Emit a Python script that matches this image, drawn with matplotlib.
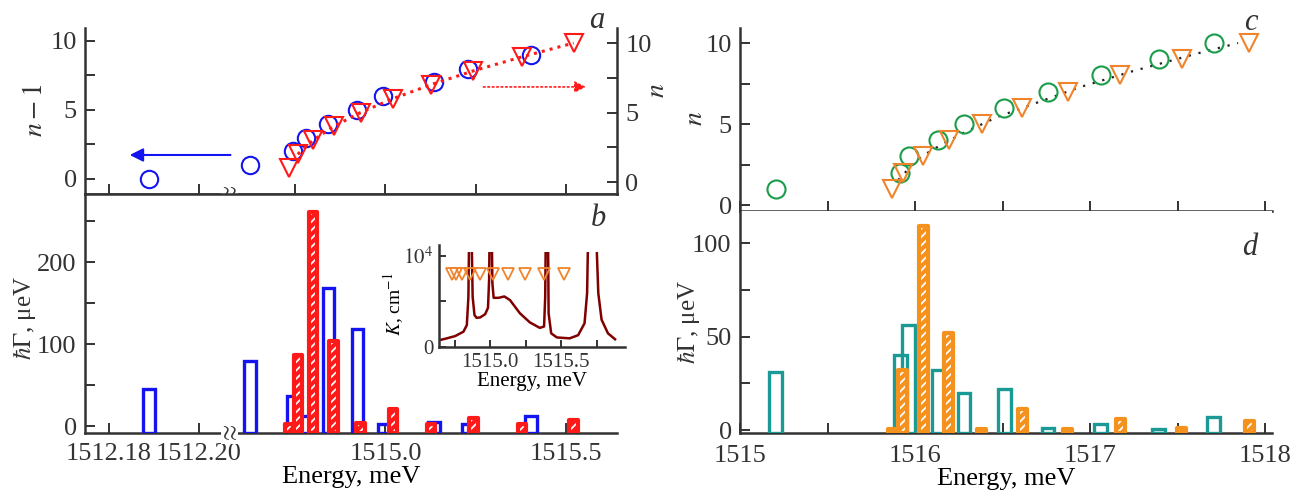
import numpy as np
import matplotlib.pyplot as plt
from matplotlib.patches import Rectangle
from matplotlib.ticker import FixedLocator, FixedFormatter, NullFormatter

plt.rcParams.update({
    'font.family': 'Liberation Serif',
    'mathtext.fontset': 'stix',
    'font.size': 19,
    'axes.linewidth': 1.8,
    'axes.edgecolor': '#333333',
    'text.color': '#333333',
    'xtick.color': '#333333',
    'ytick.color': '#333333',
    'xtick.direction': 'in',
    'ytick.direction': 'in',
    'xtick.major.size': 7, 'ytick.major.size': 7,
    'xtick.minor.size': 7, 'ytick.minor.size': 7,
    'xtick.major.width': 1.4, 'ytick.major.width': 1.4,
    'xtick.minor.width': 1.4, 'ytick.minor.width': 1.4,
    'hatch.linewidth': 1.3,
})

BLUE = '#1414f0'
RED = '#ff1a1a'
GREEN = '#1a9c4a'
ORANGE = '#f5921e'
ORANGE_M = '#f0842c'
TEAL = '#1a9a94'
MAROON = '#800000'

# ---- panel a / b : blue circles = n-1, red triangles = n ----
circ_a_E = [1512.1889, 1514.624, 1514.743, 1514.781, 1514.842, 1514.922,
            1514.994, 1515.135, 1515.228, 1515.404]
circ_a_n1 = [0, 1, 2, 3, 4, 5, 6, 7, 8, 9]
tri_a_E = [1514.732, 1514.757, 1514.799, 1514.856, 1514.931, 1515.021,
           1515.126, 1515.244, 1515.378, 1515.522]
tri_a_n = [1, 2, 3, 4, 5, 6, 7, 8, 9, 10]
blue_h = [45, 79, 37, 12, 168, 118, 3, 5, 3, 12]
red_h = [3, 87, 261, 104, 4, 21, 2, 10, 2, 7]

# inset: absorption spectrum
ins_E = [1514.648, 1514.695, 1514.754, 1514.812, 1514.836, 1514.847, 1514.852,
         1514.870, 1514.877, 1514.890, 1514.905, 1514.930, 1514.965, 1514.985,
         1514.993, 1514.996, 1515.012, 1515.016, 1515.025, 1515.060, 1515.100,
         1515.140, 1515.210, 1515.280, 1515.350, 1515.380, 1515.388, 1515.392,
         1515.408, 1515.412, 1515.430, 1515.470, 1515.560, 1515.620, 1515.665,
         1515.683, 1515.690, 1515.748, 1515.762, 1515.785, 1515.830, 1515.880]
ins_K = [770, 950, 1200, 1680, 2400, 5500, 12000,
         12000, 5500, 3500, 3200, 3250, 3600, 4300,
         7400, 12000, 12000, 7000, 5400, 5400, 5550,
         5150, 3700, 2700, 2100, 2250, 5500, 12000,
         12000, 3700, 1500, 1050, 950, 1300, 2600,
         5900, 12000, 12000, 5900, 3000, 1500, 850]
ins_tri_K = 8000

# ---- panel c / d ----
circ_c_E = [1515.203, 1515.917, 1515.963, 1516.134, 1516.280, 1516.511,
            1516.760, 1517.060, 1517.394, 1517.706]
circ_c_n = [1, 2, 3, 4, 5, 6, 7, 8, 9, 10]
tri_c_E = [1515.871, 1515.931, 1516.046, 1516.194, 1516.380, 1516.614,
           1516.874, 1517.174, 1517.523, 1517.909]
tri_c_n = [1, 2, 3, 4, 5, 6, 7, 8, 9, 10]
fit_c_E = [1515.903, 1516.011, 1516.097, 1516.274, 1516.469, 1516.943,
           1517.246, 1517.600, 1517.846]
fit_c_n = [1.54, 2.78, 3.40, 4.44, 5.43, 7.28, 8.27, 9.32, 10.0]
teal_h = [31, 40, 56, 32, 20, 22, 1, 3, 0.6, 7]
orange_h = [0.5, 32, 109, 52, 0.7, 11, 0.7, 6, 1, 5]

# broken energy axis for a/b (units ~ pixels)
brk_E = [1512.0, 1512.2067, 1514.567, 1516.5]
brk_u = [-810.0, 120.15, 120.16, 120.16 + (1516.5 - 1514.567) * 360]


def fwd(E):
    return np.interp(E, brk_E, brk_u)


def inv(u):
    return np.interp(u, brk_u, brk_E)


def wid(E, px):
    return [px / (4500.0 if e < 1513 else 360.0) for e in E]


W, H = 1302, 497
fig = plt.figure(figsize=(W / 100, H / 100), dpi=100)


def rect(x0, y0, x1, y1):
    return [x0 / W, 1 - y1 / H, (x1 - x0) / W, (y1 - y0) / H]


ax_a = fig.add_axes(rect(85, 28, 617, 194))
ax_b = fig.add_axes(rect(85, 194, 617, 433))
ax_c = fig.add_axes(rect(740, 28, 1272, 211))
ax_d = fig.add_axes(rect(740, 211, 1272, 433))
ax_in = fig.add_axes(rect(439, 245, 625, 347))
ax_a2 = ax_a.twinx()

xlo, xhi = 1512.1747, 1515.642
for ax in (ax_a, ax_b, ax_a2):
    ax.set_xscale('function', functions=(fwd, inv))
    ax.set_xlim(xlo, xhi)
    ax.xaxis.set_major_locator(FixedLocator([1512.18, 1512.20, 1515.0, 1515.5]))
    ax.xaxis.set_major_formatter(FixedFormatter(['1512.18', '1512.20', '1515.0', '1515.5']))
    ax.xaxis.set_minor_locator(FixedLocator([1514.75, 1515.25]))
    ax.xaxis.set_minor_formatter(NullFormatter())

# panel a
ax_a.set_ylim(-1.087, 10.94)
ax_a2.set_ylim(-0.86, 11.08)
for ax in (ax_a, ax_a2):
    ax.yaxis.set_major_locator(FixedLocator([0, 5, 10]))
    ax.yaxis.set_minor_locator(FixedLocator([2.5, 7.5]))
    ax.spines['top'].set_visible(False)
ax_a.spines['right'].set_visible(False)
ax_a2.spines['left'].set_visible(False)
ax_a.tick_params(axis='x', which='both', labelbottom=False)
ax_a.tick_params(axis='y', which='both', pad=6)
ax_a2.tick_params(axis='y', which='both', pad=6)

ax_a.plot(circ_a_E, circ_a_n1, 'o', ms=12.5, mfc='none', mec=BLUE, mew=1.5)
ax_a2.plot(tri_a_E[1:], tri_a_n[1:], ':', color=RED, lw=2.2)
ax_a2.plot(tri_a_E, tri_a_n, 'v', ms=13.5, mfc='none', mec=RED, mew=1.5)
ax_a.annotate('', xy=(1512.184, 1.74), xytext=(1514.578, 1.74),
              arrowprops=dict(arrowstyle='-|>', color=BLUE, lw=1.5, mutation_scale=20))
ax_a.annotate('', xy=(1515.564, 6.67), xytext=(1515.264, 6.67),
              arrowprops=dict(arrowstyle='-|>', color=RED, lw=1.2, ls=':', mutation_scale=17))

# panel b
b_lo = -8.5
ax_b.set_ylim(b_lo, 283)
ax_b.yaxis.set_major_locator(FixedLocator([0, 100, 200]))
ax_b.yaxis.set_minor_locator(FixedLocator([50, 150, 250]))
ax_b.spines['top'].set_visible(False)
ax_b.spines['right'].set_visible(False)
ax_b.tick_params(axis='y', which='both', pad=6)
ax_b.tick_params(axis='x', which='both', pad=7)
ax_b.bar(circ_a_E, [h - b_lo for h in blue_h], bottom=b_lo, width=wid(circ_a_E, 11.5),
         facecolor='none', edgecolor=BLUE, linewidth=2.4, zorder=3)
ax_b.bar(tri_a_E, [h - b_lo for h in red_h], bottom=b_lo, width=wid(tri_a_E, 8.5),
         color=RED, edgecolor='white', hatch='////', linewidth=0, zorder=4)
ax_b.bar(tri_a_E, [h - b_lo for h in red_h], bottom=b_lo, width=wid(tri_a_E, 8.5),
         facecolor='none', edgecolor=RED, linewidth=3, joinstyle='round', zorder=5)
ax_b.set_xlabel('Energy, meV', labelpad=1)

# break marks
for ax in (ax_a, ax_b):
    ax.text(1513.5, 0, r'$\wr\!\wr$', transform=ax.get_xaxis_transform(),
            ha='center', va='center', fontsize=17, color='#333333',
            bbox=dict(facecolor='white', edgecolor='none', pad=0.5), zorder=10,
            clip_on=False)

# inset
ax_in.set_xlim(1514.64, 1515.95)
ax_in.set_ylim(0, 11200)
spec, = ax_in.plot(ins_E, ins_K, '-', color=MAROON, lw=1.8)
spec.set_clip_path(Rectangle((0, 0), 1, 10400 / 11200, transform=ax_in.transAxes))
ax_in.plot(tri_a_E, [ins_tri_K] * len(tri_a_E), 'v', ms=9, mfc='none', mec=ORANGE_M, mew=1.3)
ax_in.spines['top'].set_visible(False)
ax_in.spines['right'].set_visible(False)
ax_in.xaxis.set_major_locator(FixedLocator([1515.0, 1515.5]))
ax_in.xaxis.set_major_formatter(FixedFormatter(['1515.0', '1515.5']))
ax_in.xaxis.set_minor_locator(FixedLocator([1514.75, 1515.25, 1515.75]))
ax_in.yaxis.set_major_locator(FixedLocator([0, 5000, 10000]))
ax_in.yaxis.set_major_formatter(FixedFormatter(['0', '', r'$10^4$']))
ax_in.tick_params(which='both', labelsize=15, length=5, pad=4)
ax_in.set_xlabel('Energy, meV', fontsize=15, labelpad=0)
ax_in.set_ylabel(r'$K$, cm$^{-1}$', fontsize=14, labelpad=-3)
ax_in.yaxis.set_label_coords(-0.175, 0.42)

# panel c
ax_c.set_xlim(1515.0, 1518.04)
ax_c.set_ylim(-0.37, 10.93)
ax_c.xaxis.set_major_locator(FixedLocator([1515, 1515.5, 1516, 1516.5, 1517, 1517.5, 1518]))
ax_c.tick_params(axis='x', labelbottom=False)
ax_c.yaxis.set_major_locator(FixedLocator([0, 5, 10]))
ax_c.yaxis.set_minor_locator(FixedLocator([2.5, 7.5]))
ax_c.tick_params(axis='y', which='both', pad=6)
ax_c.spines['top'].set_visible(False)
ax_c.spines['right'].set_visible(False)
ax_c.plot(fit_c_E, fit_c_n, linestyle=(0, (1, 3.5)), color='#222222', lw=1.6)
ax_c.plot(circ_c_E, circ_c_n, 'o', ms=13, mfc='none', mec=GREEN, mew=1.5)
ax_c.plot(tri_c_E, tri_c_n, 'v', ms=13.5, mfc='none', mec=ORANGE_M, mew=1.5)

# panel d
d_lo = -1.6
ax_d.set_xlim(1515.0, 1518.04)
ax_d.set_ylim(d_lo, 117.3)
ax_d.xaxis.set_major_locator(FixedLocator([1515, 1516, 1517, 1518]))
ax_d.xaxis.set_minor_locator(FixedLocator([1515.5, 1516.5, 1517.5]))
ax_d.yaxis.set_major_locator(FixedLocator([0, 50, 100]))
ax_d.yaxis.set_minor_locator(FixedLocator([25, 75]))
ax_d.tick_params(axis='y', which='both', pad=6)
ax_d.tick_params(axis='x', which='both', pad=9)
ax_d.spines['top'].set_visible(False)
ax_d.spines['right'].set_visible(False)
ax_d.bar(circ_c_E, [h - d_lo for h in teal_h], bottom=d_lo, width=13 / 175,
         facecolor='none', edgecolor=TEAL, linewidth=2.4, zorder=3)
ax_d.bar(tri_c_E, [h - d_lo for h in orange_h], bottom=d_lo, width=9 / 175,
         color=ORANGE, edgecolor='white', hatch='////', linewidth=0, zorder=4)
ax_d.bar(tri_c_E, [h - d_lo for h in orange_h], bottom=d_lo, width=9 / 175,
         facecolor='none', edgecolor=ORANGE, linewidth=3, joinstyle='round', zorder=5)
ax_d.set_xlabel('Energy, meV', labelpad=0)

# axis titles
fig.text(36 / W, 1 - 110 / H, r'$n-1$', rotation=90, ha='center', va='center', fontsize=20)
fig.text(657 / W, 1 - 90 / H, r'$n$', rotation=90, ha='center', va='center', fontsize=20)
fig.text(24 / W, 1 - 318 / H, r'$\hbar\Gamma$, μeV', rotation=90, ha='center', va='center', fontsize=18)
fig.text(696 / W, 1 - 118 / H, r'$n$', rotation=90, ha='center', va='center', fontsize=20)
fig.text(688 / W, 1 - 322 / H, r'$\hbar\Gamma$, μeV', rotation=90, ha='center', va='center', fontsize=18)

for lab, px, py in (('a', 597, 20), ('b', 598, 218), ('c', 1251, 22), ('d', 1250, 247)):
    fig.text(px / W, 1 - py / H, lab, style='italic', ha='center', va='center', fontsize=22)

fig.savefig('out.png', dpi=100)
